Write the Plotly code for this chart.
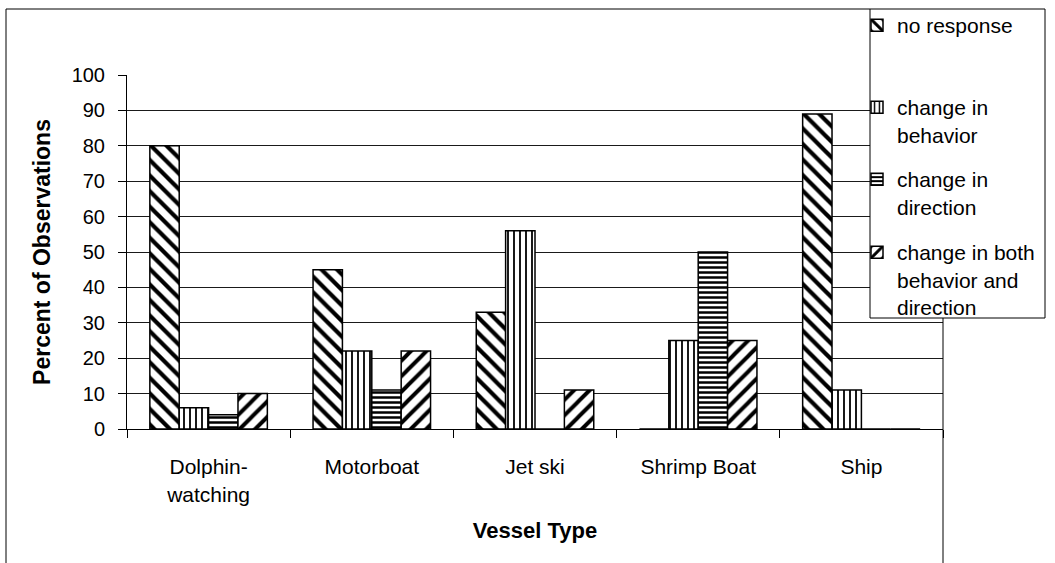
import plotly.graph_objects as go

categories = ["Dolphin-<br>watching", "Motorboat", "Jet ski", "Shrimp Boat", "Ship"]
series_names = ["no response", "change in<br>behavior", "change in<br>direction",
                "change in both<br>behavior and<br>direction"]
no_response = [80, 45, 33, 0, 89]
change_behavior = [6, 22, 56, 25, 11]
change_direction = [4, 11, 0, 50, 0]
change_both = [10, 22, 11, 25, 0]
y_ticks = list(range(0, 101, 10))

W, H = 1055, 563
PL, PR, PT, PB = 127, 943, 75, 429  # plot area in pixels


def xp(px):
    return (px - PL) / (PR - PL)


def yp(py):
    return (PB - py) / (PB - PT)


FONT = "Liberation Sans, Arial, sans-serif"

styles = [
    dict(shape="\\", size=11, solidity=0.38),
    dict(shape="|", size=6, solidity=0.3),
    dict(shape="-", size=5, solidity=0.5),
    dict(shape="/", size=11, solidity=0.36),
]
values = [no_response, change_behavior, change_direction, change_both]
legend_ids = ["legend", "legend2", "legend3", "legend4"]
legend_tops = [5, 87, 159, 232]

fig = go.Figure()
for name, vals, st, lid in zip(series_names, values, styles, legend_ids):
    fig.add_trace(go.Bar(
        x=categories, y=vals, name=name, legend=lid,
        marker=dict(color="white",
                    line=dict(color="black", width=1.5),
                    pattern=dict(shape=st["shape"], size=st["size"],
                                 solidity=st["solidity"], fgcolor="black",
                                 bgcolor="white", fillmode="replace")),
    ))

layout_legends = {}
for lid, top in zip(legend_ids, legend_tops):
    layout_legends[lid] = dict(
        x=xp(857), xanchor="left", y=yp(top), yanchor="top",
        valign="top", bgcolor="rgba(0,0,0,0)", borderwidth=0,
        font=dict(family=FONT, size=21, color="black"),
        itemclick=False, itemdoubleclick=False,
    )

shapes = [
    # outer chart frame
    dict(type="line", xref="paper", yref="paper", x0=xp(6), x1=xp(6), y0=yp(9), y1=yp(575),
         line=dict(color="black", width=1)),
    dict(type="line", xref="paper", yref="paper", x0=xp(6), x1=xp(870), y0=yp(9), y1=yp(9),
         line=dict(color="black", width=1)),
    dict(type="line", xref="paper", yref="paper", x0=xp(943), x1=xp(943), y0=yp(318), y1=yp(575),
         line=dict(color="black", width=1)),
    # legend box
    dict(type="rect", xref="paper", yref="paper", x0=xp(870), x1=xp(1045), y0=yp(318), y1=yp(9),
         fillcolor="white", line=dict(color="black", width=1), layer="above"),
]

fig.update_layout(
    width=W, height=H,
    margin=dict(l=PL, r=W - PR, t=PT, b=H - PB, autoexpand=False),
    paper_bgcolor="white", plot_bgcolor="white",
    font=dict(family=FONT, color="black"),
    barmode="group", bargap=0.28, bargroupgap=0,
    showlegend=True,
    shapes=shapes,
    xaxis=dict(
        type="category", tickson="boundaries", ticks="outside", ticklen=8,
        tickcolor="black", showline=True, linecolor="black", linewidth=1,
        showgrid=False, tickfont=dict(size=21, family=FONT), ticklabelstandoff=19,
        title=dict(text="<b>Vessel Type</b>", font=dict(size=22, family=FONT), standoff=18),
    ),
    yaxis=dict(
        range=[0, 100], tickvals=y_ticks, ticks="outside", ticklen=8,
        tickcolor="black", showline=True, linecolor="black", linewidth=1,
        showgrid=True, gridcolor="#1a1a1a", gridwidth=1, zeroline=False,
        tickfont=dict(size=20, family=FONT), ticklabelstandoff=9,
        title=dict(text="<b>Percent of Observations</b>", font=dict(size=23, family=FONT), standoff=14),
    ),
    **layout_legends,
)

fig.write_html("out.html", config={"displayModeBar": False},
               post_script="document.body.style.margin='0';")
